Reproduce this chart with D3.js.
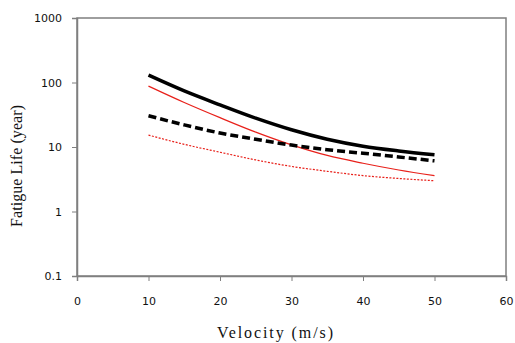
<!DOCTYPE html>
<html>
<head>
<meta charset="utf-8">
<script src="https://cdn.jsdelivr.net/npm/d3@7"></script>
<style>
  body { margin: 0; background: #fff; }
  svg { display: block; }
</style>
</head>
<body>
<div id="chart"></div>
<script>
const velocity = [10, 15, 20, 25, 30, 35, 40, 45, 50];
const blackSolid = [130, 74, 45, 28, 18.5, 13.2, 10.3, 8.7, 7.6];
const blackDashed = [30.5, 22, 16.5, 13.2, 10.7, 9.1, 8.0, 7.0, 6.1];
const redSolid = [88, 49, 28.5, 17, 10.8, 7.4, 5.6, 4.4, 3.6];
const redDotted = [15.3, 11, 8.3, 6.3, 5.0, 4.2, 3.6, 3.25, 3.0];
const xTicks = [0, 10, 20, 30, 40, 50, 60];
const yTicks = [0.1, 1, 10, 100, 1000];

const width = 515, height = 343;
const margin = { top: 18, right: 9, bottom: 67, left: 77 };

const svg = d3.select("#chart").append("svg")
  .attr("width", width)
  .attr("height", height);

const x = d3.scaleLinear().domain([0, 60]).range([margin.left, width - margin.right]);
const y = d3.scaleLog().domain([0.1, 1000]).range([height - margin.bottom, margin.top]);

// plot frame
svg.append("rect")
  .attr("x", x(0))
  .attr("y", y(1000))
  .attr("width", x(60) - x(0))
  .attr("height", y(0.1) - y(1000))
  .attr("fill", "none")
  .attr("stroke", "#7f7f7f")
  .attr("stroke-width", 1.5);

const xAxis = svg.append("g")
  .attr("transform", "translate(0," + y(0.1) + ")")
  .call(d3.axisBottom(x).tickValues(xTicks).tickSize(5).tickPadding(16).tickFormat(d3.format("d")));

const yAxis = svg.append("g")
  .attr("transform", "translate(" + x(0) + ",0)")
  .call(d3.axisLeft(y).tickValues(yTicks).tickSize(5).tickPadding(10).tickFormat(d => d < 1 ? "0.1" : d3.format("d")(d)));

[xAxis, yAxis].forEach(g => {
  g.select(".domain").attr("stroke", "#7f7f7f").attr("stroke-width", 1.5);
  g.selectAll(".tick line").attr("stroke", "#7f7f7f");
  g.selectAll(".tick text")
    .attr("fill", "#111")
    .style("font-family", "'DejaVu Sans', Verdana, sans-serif")
    .style("font-size", "11px");
});

// series
const series = [
  { values: redDotted, color: "#e8201a", width: 1.2, dash: "2,1.5" },
  { values: redSolid, color: "#e8201a", width: 1.2, dash: null },
  { values: blackDashed, color: "#000", width: 3.5, dash: "8,4" },
  { values: blackSolid, color: "#000", width: 3.5, dash: null }
];

const line = d3.line()
  .x((d, i) => x(velocity[i]))
  .y(d => y(d))
  .curve(d3.curveMonotoneX);

svg.selectAll("path.series")
  .data(series)
  .enter()
  .append("path")
  .attr("class", "series")
  .attr("d", d => line(d.values))
  .attr("fill", "none")
  .attr("stroke", d => d.color)
  .attr("stroke-width", d => d.width)
  .attr("stroke-dasharray", d => d.dash);

// axis titles
svg.append("text")
  .attr("x", 275)
  .attr("y", 338)
  .attr("text-anchor", "middle")
  .attr("textLength", 116)
  .style("font-family", "'Liberation Serif', 'Times New Roman', serif")
  .style("font-size", "16px")
  .attr("fill", "#111")
  .text("Velocity (m/s)");

svg.append("text")
  .attr("transform", "translate(22,166) rotate(-90)")
  .attr("text-anchor", "middle")
  .attr("textLength", 122)
  .style("font-family", "'Liberation Serif', 'Times New Roman', serif")
  .style("font-size", "16px")
  .attr("fill", "#111")
  .text("Fatigue Life (year)");
</script>
</body>
</html>
